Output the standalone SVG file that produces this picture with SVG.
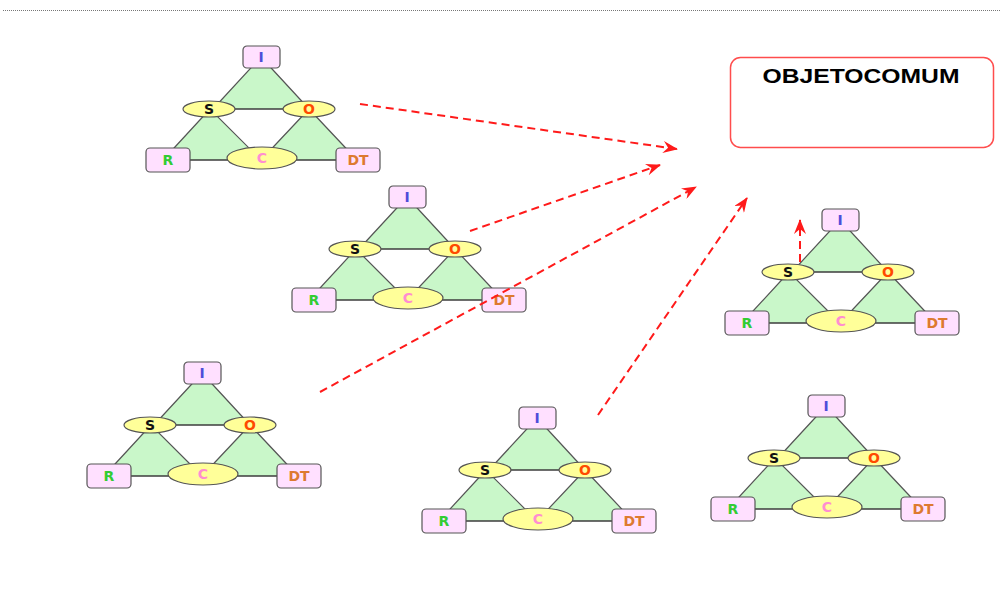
<svg xmlns="http://www.w3.org/2000/svg" width="1003" height="609" viewBox="0 0 1003 609">
  <style>
    .tri { fill: #c9f7c9; stroke: #555; stroke-width: 1.2; }
    .edge { stroke: #333; stroke-width: 1.2; }
    .box { fill: #ffe0ff; stroke: #555; stroke-width: 1.2; }
    .ell { fill: #ffff99; stroke: #555; stroke-width: 1.2; }
    .lbl { font-family: "DejaVu Sans", Verdana, sans-serif; font-weight: bold; font-size: 14px; text-anchor: middle; dominant-baseline: central; }
    .tI { fill: #4d4dd9; }
    .tS { fill: #111; }
    .tO { fill: #ff4a00; }
    .tR { fill: #33cc33; }
    .tC { fill: #ff8ed0; }
    .tDT { fill: #dd7a30; }
    .flow { fill: none; stroke: #ff1a1a; stroke-width: 2; stroke-dasharray: 8 5; marker-end: url(#head); }
  </style>
  <defs>
    <marker id="head" viewBox="0 0 15 12" refX="14" refY="6" markerWidth="15" markerHeight="12" markerUnits="userSpaceOnUse" orient="auto">
      <path d="M0,0 L15,6 L0,12 L5,6 Z" fill="#ff1a1a"/>
    </marker>
  </defs>

  <rect width="1003" height="609" fill="#fff"/>
  <!-- dotted rule at the top -->
  <line x1="3" y1="10.5" x2="1000" y2="10.5" stroke="#777" stroke-width="1" stroke-dasharray="1 1"/>

  <!-- common object box -->
  <g id="objeto-comum">
    <rect x="730.5" y="57.5" width="263" height="90" rx="10" fill="#fff" stroke="#ff4d4d" stroke-width="1.5"/>
    <text x="861" y="83" font-family="Liberation Sans, Arial, sans-serif" font-weight="bold" font-size="21" text-anchor="middle" textLength="197" lengthAdjust="spacingAndGlyphs" fill="#000">OBJETOCOMUM</text>
  </g>

  <!-- cluster 1 -->
  <g id="cluster1" transform="translate(261,46)">
    <path class="tri" d="M0,11 L-48,63 L48,63 Z"/>
    <path class="tri" d="M-51,63 L-98,114 L0,114 Z"/>
    <path class="tri" d="M48,63 L0,114 L96,114 Z"/>
    <line class="edge" x1="-52" y1="63" x2="48" y2="63"/>
    <line class="edge" x1="-93" y1="114" x2="97" y2="114"/>
    <g id="c1-I"><rect class="box" x="-18" y="0" width="37" height="22" rx="4"/><text class="lbl tI" x="0" y="11">I</text></g>
    <g id="c1-S"><ellipse class="ell" cx="-52" cy="63" rx="26" ry="8"/><text class="lbl tS" x="-52" y="63">S</text></g>
    <g id="c1-O"><ellipse class="ell" cx="48" cy="63" rx="26" ry="8"/><text class="lbl tO" x="48" y="63">O</text></g>
    <g id="c1-R"><rect class="box" x="-115" y="102" width="44" height="24" rx="4"/><text class="lbl tR" x="-93" y="114">R</text></g>
    <g id="c1-C"><ellipse class="ell" cx="1" cy="112" rx="35" ry="11"/><text class="lbl tC" x="1" y="112">C</text></g>
    <g id="c1-DT"><rect class="box" x="75" y="102" width="44" height="24" rx="4"/><text class="lbl tDT" x="97" y="114">DT</text></g>
  </g>

  <!-- cluster 2 -->
  <g id="cluster2" transform="translate(407,186)">
    <path class="tri" d="M0,11 L-48,63 L48,63 Z"/>
    <path class="tri" d="M-51,63 L-98,114 L0,114 Z"/>
    <path class="tri" d="M48,63 L0,114 L96,114 Z"/>
    <line class="edge" x1="-52" y1="63" x2="48" y2="63"/>
    <line class="edge" x1="-93" y1="114" x2="97" y2="114"/>
    <g id="c2-I"><rect class="box" x="-18" y="0" width="37" height="22" rx="4"/><text class="lbl tI" x="0" y="11">I</text></g>
    <g id="c2-S"><ellipse class="ell" cx="-52" cy="63" rx="26" ry="8"/><text class="lbl tS" x="-52" y="63">S</text></g>
    <g id="c2-O"><ellipse class="ell" cx="48" cy="63" rx="26" ry="8"/><text class="lbl tO" x="48" y="63">O</text></g>
    <g id="c2-R"><rect class="box" x="-115" y="102" width="44" height="24" rx="4"/><text class="lbl tR" x="-93" y="114">R</text></g>
    <g id="c2-C"><ellipse class="ell" cx="1" cy="112" rx="35" ry="11"/><text class="lbl tC" x="1" y="112">C</text></g>
    <g id="c2-DT"><rect class="box" x="75" y="102" width="44" height="24" rx="4"/><text class="lbl tDT" x="97" y="114">DT</text></g>
  </g>

  <!-- cluster 3 -->
  <g id="cluster3" transform="translate(202,362)">
    <path class="tri" d="M0,11 L-48,63 L48,63 Z"/>
    <path class="tri" d="M-51,63 L-98,114 L0,114 Z"/>
    <path class="tri" d="M48,63 L0,114 L96,114 Z"/>
    <line class="edge" x1="-52" y1="63" x2="48" y2="63"/>
    <line class="edge" x1="-93" y1="114" x2="97" y2="114"/>
    <g id="c3-I"><rect class="box" x="-18" y="0" width="37" height="22" rx="4"/><text class="lbl tI" x="0" y="11">I</text></g>
    <g id="c3-S"><ellipse class="ell" cx="-52" cy="63" rx="26" ry="8"/><text class="lbl tS" x="-52" y="63">S</text></g>
    <g id="c3-O"><ellipse class="ell" cx="48" cy="63" rx="26" ry="8"/><text class="lbl tO" x="48" y="63">O</text></g>
    <g id="c3-R"><rect class="box" x="-115" y="102" width="44" height="24" rx="4"/><text class="lbl tR" x="-93" y="114">R</text></g>
    <g id="c3-C"><ellipse class="ell" cx="1" cy="112" rx="35" ry="11"/><text class="lbl tC" x="1" y="112">C</text></g>
    <g id="c3-DT"><rect class="box" x="75" y="102" width="44" height="24" rx="4"/><text class="lbl tDT" x="97" y="114">DT</text></g>
  </g>

  <!-- cluster 4 -->
  <g id="cluster4" transform="translate(537,407)">
    <path class="tri" d="M0,11 L-48,63 L48,63 Z"/>
    <path class="tri" d="M-51,63 L-98,114 L0,114 Z"/>
    <path class="tri" d="M48,63 L0,114 L96,114 Z"/>
    <line class="edge" x1="-52" y1="63" x2="48" y2="63"/>
    <line class="edge" x1="-93" y1="114" x2="97" y2="114"/>
    <g id="c4-I"><rect class="box" x="-18" y="0" width="37" height="22" rx="4"/><text class="lbl tI" x="0" y="11">I</text></g>
    <g id="c4-S"><ellipse class="ell" cx="-52" cy="63" rx="26" ry="8"/><text class="lbl tS" x="-52" y="63">S</text></g>
    <g id="c4-O"><ellipse class="ell" cx="48" cy="63" rx="26" ry="8"/><text class="lbl tO" x="48" y="63">O</text></g>
    <g id="c4-R"><rect class="box" x="-115" y="102" width="44" height="24" rx="4"/><text class="lbl tR" x="-93" y="114">R</text></g>
    <g id="c4-C"><ellipse class="ell" cx="1" cy="112" rx="35" ry="11"/><text class="lbl tC" x="1" y="112">C</text></g>
    <g id="c4-DT"><rect class="box" x="75" y="102" width="44" height="24" rx="4"/><text class="lbl tDT" x="97" y="114">DT</text></g>
  </g>

  <!-- cluster 5 -->
  <g id="cluster5" transform="translate(840,209)">
    <path class="tri" d="M0,11 L-48,63 L48,63 Z"/>
    <path class="tri" d="M-51,63 L-98,114 L0,114 Z"/>
    <path class="tri" d="M48,63 L0,114 L96,114 Z"/>
    <line class="edge" x1="-52" y1="63" x2="48" y2="63"/>
    <line class="edge" x1="-93" y1="114" x2="97" y2="114"/>
    <g id="c5-I"><rect class="box" x="-18" y="0" width="37" height="22" rx="4"/><text class="lbl tI" x="0" y="11">I</text></g>
    <g id="c5-S"><ellipse class="ell" cx="-52" cy="63" rx="26" ry="8"/><text class="lbl tS" x="-52" y="63">S</text></g>
    <g id="c5-O"><ellipse class="ell" cx="48" cy="63" rx="26" ry="8"/><text class="lbl tO" x="48" y="63">O</text></g>
    <g id="c5-R"><rect class="box" x="-115" y="102" width="44" height="24" rx="4"/><text class="lbl tR" x="-93" y="114">R</text></g>
    <g id="c5-C"><ellipse class="ell" cx="1" cy="112" rx="35" ry="11"/><text class="lbl tC" x="1" y="112">C</text></g>
    <g id="c5-DT"><rect class="box" x="75" y="102" width="44" height="24" rx="4"/><text class="lbl tDT" x="97" y="114">DT</text></g>
  </g>

  <!-- cluster 6 -->
  <g id="cluster6" transform="translate(826,395)">
    <path class="tri" d="M0,11 L-48,63 L48,63 Z"/>
    <path class="tri" d="M-51,63 L-98,114 L0,114 Z"/>
    <path class="tri" d="M48,63 L0,114 L96,114 Z"/>
    <line class="edge" x1="-52" y1="63" x2="48" y2="63"/>
    <line class="edge" x1="-93" y1="114" x2="97" y2="114"/>
    <g id="c6-I"><rect class="box" x="-18" y="0" width="37" height="22" rx="4"/><text class="lbl tI" x="0" y="11">I</text></g>
    <g id="c6-S"><ellipse class="ell" cx="-52" cy="63" rx="26" ry="8"/><text class="lbl tS" x="-52" y="63">S</text></g>
    <g id="c6-O"><ellipse class="ell" cx="48" cy="63" rx="26" ry="8"/><text class="lbl tO" x="48" y="63">O</text></g>
    <g id="c6-R"><rect class="box" x="-115" y="102" width="44" height="24" rx="4"/><text class="lbl tR" x="-93" y="114">R</text></g>
    <g id="c6-C"><ellipse class="ell" cx="1" cy="112" rx="35" ry="11"/><text class="lbl tC" x="1" y="112">C</text></g>
    <g id="c6-DT"><rect class="box" x="75" y="102" width="44" height="24" rx="4"/><text class="lbl tDT" x="97" y="114">DT</text></g>
  </g>

  <!-- dashed flows toward the common object -->
  <g id="connectors">
    <line class="flow" x1="360" y1="104" x2="677" y2="149"/>
    <line class="flow" x1="470" y1="231" x2="660" y2="165"/>
    <line class="flow" x1="320" y1="392" x2="696" y2="187"/>
    <line class="flow" x1="598" y1="415" x2="747" y2="198"/>
    <line class="flow" x1="800" y1="262" x2="800" y2="220"/>
  </g>
</svg>
